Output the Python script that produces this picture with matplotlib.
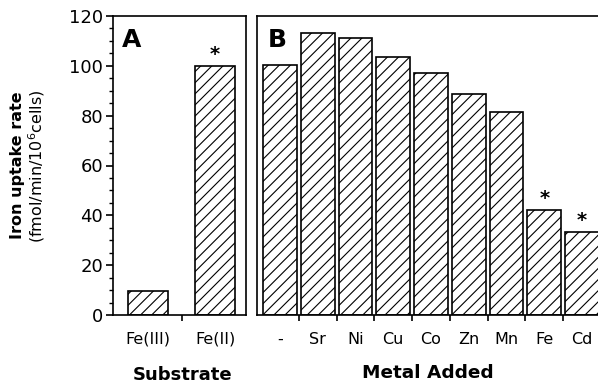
import matplotlib.pyplot as plt
from matplotlib.ticker import MultipleLocator, FixedLocator
import numpy as np

plt.rcParams['font.family'] = ['DejaVu Sans']
plt.rcParams['hatch.linewidth'] = 0.8

# panel A
subs = ['Fe(III)', 'Fe(II)']
subs_val = [9.6, 100.0]
subs_star = [False, True]
# panel B
metals = ['-', 'Sr', 'Ni', 'Cu', 'Co', 'Zn', 'Mn', 'Fe', 'Cd']
metal_val = [100.3, 113.0, 111.0, 103.7, 97.0, 88.8, 81.6, 42.3, 33.4]
metal_star = [False, False, False, False, False, False, False, True, True]

W, H = 598, 385
fig = plt.figure(figsize=(W/100, H/100), dpi=100)

def px(l, t, r, b):
    return [l/W, 1-b/H, (r-l)/W, (b-t)/H]

ax1 = fig.add_axes(px(113, 16, 246, 315))
ax2 = fig.add_axes(px(257, 16, 605, 315))

lw = 1.2
for ax, cats, vals, stars, wid in [(ax1, subs, subs_val, subs_star, 0.6),
                                   (ax2, metals, metal_val, metal_star, 0.9)]:
    x = np.arange(len(cats))
    ax.bar(x, vals, width=wid, color='white', edgecolor='black', hatch='///', linewidth=lw)
    for xi, v, s in zip(x, vals, stars):
        if s:
            ax.annotate('*', (xi, v), textcoords='offset points', xytext=(0, 1),
                        ha='center', va='bottom', fontsize=14, fontweight='bold')
    ax.set_ylim(0, 120)
    for sp in ax.spines.values():
        sp.set_linewidth(lw)
    ax.set_xticks(x)
    ax.set_xticklabels(cats, fontsize=11.5)
    ax.xaxis.set_minor_locator(FixedLocator(x[:-1] + 0.5))
    ax.tick_params(axis='x', which='major', length=0, pad=12)
    ax.tick_params(axis='x', which='minor', length=4, width=lw, direction='out')

ax1.set_xlim(-0.52, 1.46)
ax2.set_xlim(-0.61, 8.61)

ax1.yaxis.set_major_locator(MultipleLocator(20))
ax1.yaxis.set_minor_locator(MultipleLocator(5))
ax1.tick_params(axis='y', which='major', length=5, width=lw, labelsize=13, pad=2)
ax1.tick_params(axis='y', which='minor', length=3, width=1)
ax2.set_yticks([])

ax1.text(0.07, 0.96, 'A', transform=ax1.transAxes, fontsize=18, fontweight='bold', va='top')
ax2.text(0.03, 0.96, 'B', transform=ax2.transAxes, fontsize=18, fontweight='bold', va='top')

fig.text(18/W, 1-165/H, 'Iron uptake rate', rotation=90, ha='center', va='center',
         fontsize=11.5, fontweight='bold')
fig.text(37/W, 1-166/H, '(fmol/min/10$^6$cells)', rotation=90, ha='center', va='center',
         fontsize=11.5)
fig.text(183/W, 1-375/H, 'Substrate', ha='center', va='center', fontsize=13, fontweight='bold')
fig.text(428/W, 1-373/H, 'Metal Added', ha='center', va='center', fontsize=13.3, fontweight='bold')

fig.savefig('out.png', dpi=100)
